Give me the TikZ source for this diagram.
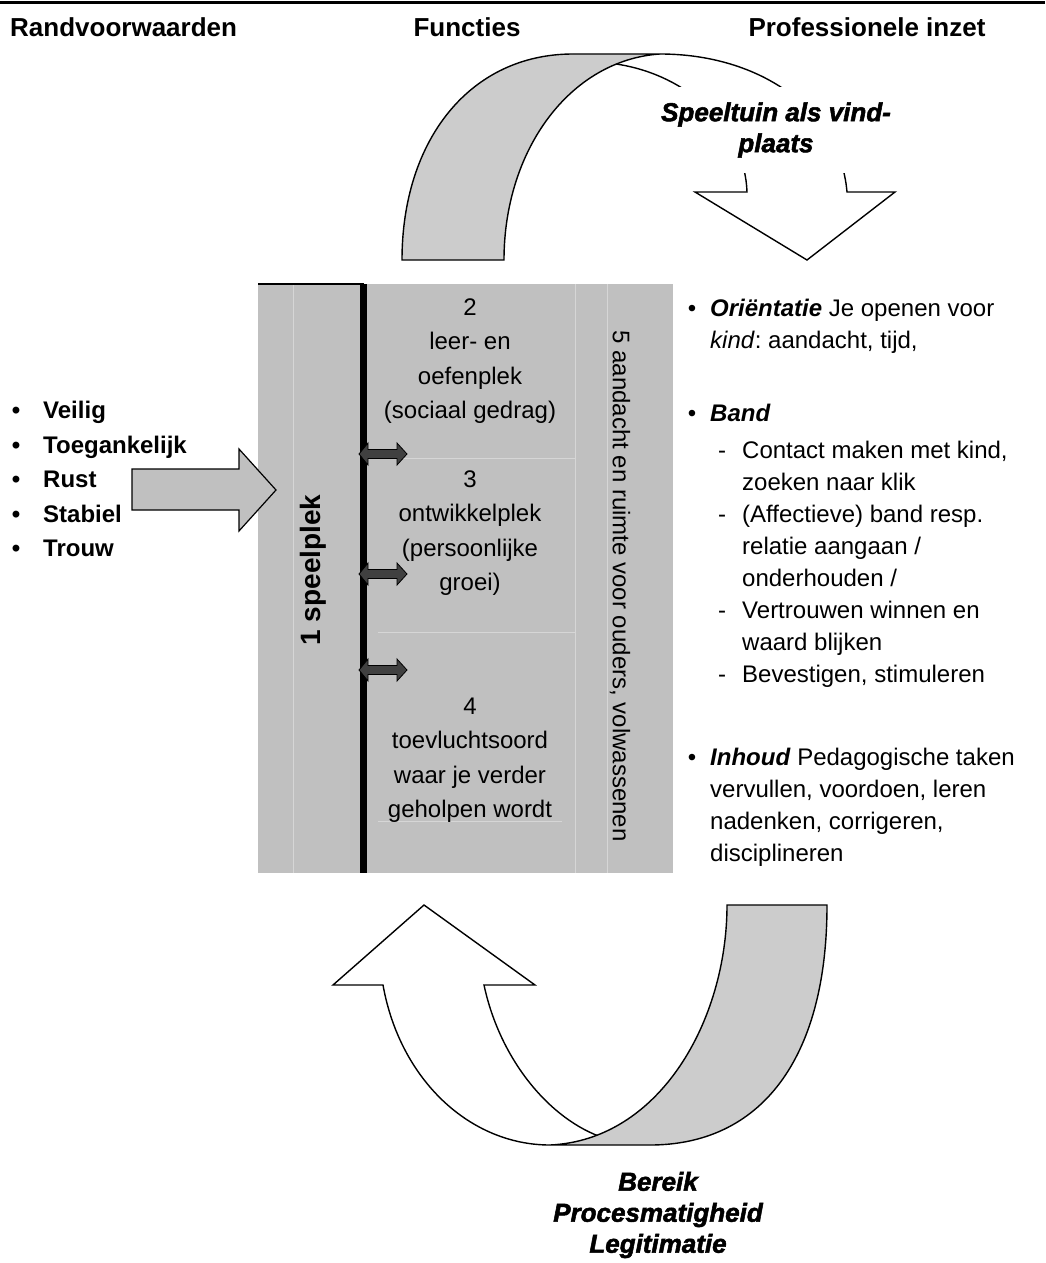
\documentclass[tikz,border=0pt]{standalone}
\usepackage{fontspec}
\setmainfont{Liberation Sans}
\newfontfamily\heavyit[BoldItalicFeatures={FakeBold=2}]{Liberation Sans}
\usetikzlibrary{calc}
\frenchspacing

\definecolor{boxgray}{HTML}{C0C0C0}
\definecolor{bandgray}{HTML}{CCCCCC}
\definecolor{seamgray}{HTML}{D6D6D6}
\definecolor{dblgray}{HTML}{404040}

\tikzset{
  head/.style={font=\bfseries\fontsize{26}{30}\selectfont, inner sep=0pt},
  body/.style={font=\fontsize{24}{32}\selectfont, inner sep=0pt, align=left},
  fbox/.style={font=\fontsize{24}{34.5}\selectfont, inner sep=0pt, align=center},
  heavy/.style={font=\heavyit\bfseries\itshape\fontsize{26}{31}\selectfont, align=center},
  ribbon/.style={draw, line width=1.4pt},
  seam/.style={draw=seamgray, line width=1pt}
}

\begin{document}
\begin{tikzpicture}[x=1pt,y=-1pt]
\useasboundingbox (0,0) rectangle (1045,1263);

% kopjes
\draw[line width=3pt] (0,3) -- (1045,3);
\node[head, anchor=west] (rand) at (10,27) {Randvoorwaarden};
\node[head] (func) at (467,27) {Functies};
\node[head] (prof) at (867,27) {Professionele inzet};

% bovenste boogpijl
\draw[ribbon, fill=white] (616,64) .. controls (690,75) and (745,130) .. (747,192) -- (695,192) -- (807,260) -- (895,192) -- (847,192) .. controls (840,110) and (760,54) .. (660,54);
\draw[ribbon, fill=bandgray] (402,260) .. controls (402,140) and (470,54) .. (573,54) -- (660,54) .. controls (570,60) and (504,150) .. (504,260) -- cycle;
\node[heavy, fill=white, minimum height=86pt, inner xsep=4pt] (vind) at (776,130) {Speeltuin als vind-\\plaats};

% blok met functies
\fill[boxgray] (258,284) rectangle (673,873);
\foreach \x in {293,575,607}
  \draw[seam] (\x,284) -- (\x,873);
\draw[seam] (368,458) -- (575,458);
\draw[seam] (378,632) -- (575,632);
\draw[seam] (378,821) -- (562,821);
\draw[line width=1.5pt] (258,284) -- (363.5,284);
\draw[line width=7pt] (363.5,284) -- (363.5,873);
\foreach \y in {454,574,670}
  \draw[fill=dblgray, line width=0.8pt] (359,\y) -- ++(9,-11) -- ++(0,6.5) -- ++(29,0) -- ++(0,-6.5) -- ++(10,11) -- ++(-10,11) -- ++(0,-6.5) -- ++(-29,0) -- ++(0,6.5) -- cycle;

\node[font=\bfseries\fontsize{28}{32}\selectfont, inner sep=0pt, rotate=90] (spel) at (313,570) {1 speelplek};
% anchor=base zit op de laatste regel
\node[fbox, anchor=base] (leer) at (470,418.5) {2\\leer- en\\oefenplek\\(sociaal gedrag)};
\node[fbox, anchor=base] (ontw) at (470,590.5) {3\\ontwikkelplek\\(persoonlijke\\groei)};
\node[fbox, anchor=base] (toev) at (470,817.5) {4\\toevluchtsoord\\waar je verder\\geholpen wordt};
\node[fbox, rotate=-90] (ouders) at (620,586) {5 aandacht en ruimte voor ouders, volwassenen};

% randvoorwaarden
\foreach \w [count=\i] in {Veilig,Toegankelijk,Rust,Stabiel,Trouw}
  \node[body, font=\bfseries\fontsize{24}{32}\selectfont, anchor=base west] (rv\i) at (43,{418.5+34.5*(\i-1)}) {\llap{\textbullet\hspace{23pt}}\w};
\draw[fill=boxgray, line width=1.2pt] (132,469) -- (239,469) -- (239,449) -- (276,490) -- (239,531) -- (239,510) -- (132,510) -- cycle;

% professionele inzet
\node[body, anchor=base west] (ori) at (710,348.5) {\llap{\textbullet\hspace{14pt}}\textbf{\textit{Oriëntatie}} Je openen voor\\\textit{kind}: aandacht, tijd,};
\node[body, anchor=base west] (band) at (710,421.5) {\llap{\textbullet\hspace{14pt}}\textbf{\textit{Band}}};
\node[body, anchor=base west] (klik) at (742,490.5) {\llap{-\hspace{16pt}}Contact maken met kind,\\zoeken naar klik};
\node[body, anchor=base west] (relatie) at (742,586.5) {\llap{-\hspace{16pt}}(Affectieve) band resp.\\relatie aangaan /\\onderhouden /};
\node[body, anchor=base west] (vertr) at (742,650.5) {\llap{-\hspace{16pt}}Vertrouwen winnen en\\waard blijken};
\node[body, anchor=base west] (bevest) at (742,682.5) {\llap{-\hspace{16pt}}Bevestigen, stimuleren};
\node[body, anchor=base west] (inhoud) at (710,861.5) {\llap{\textbullet\hspace{14pt}}\textbf{\textit{Inhoud}} Pedagogische taken\\vervullen, voordoen, leren\\nadenken, corrigeren,\\disciplineren};

% onderste boogpijl
\draw[ribbon, fill=white] (604,1138) .. controls (550,1120) and (500,1060) .. (484,985) -- (535,985) -- (424,905) -- (333,985) -- (383,985) .. controls (400,1080) and (470,1145) .. (550,1145);
\draw[ribbon, fill=bandgray] (550,1145) .. controls (660,1140) and (727,1020) .. (727,905) -- (827,905) .. controls (827,1060) and (760,1145) .. (650,1145) -- cycle;
\node[heavy, inner sep=0pt] (bereik) at (658,1215) {Bereik\\Procesmatigheid\\Legitimatie};
\end{tikzpicture}
\end{document}
